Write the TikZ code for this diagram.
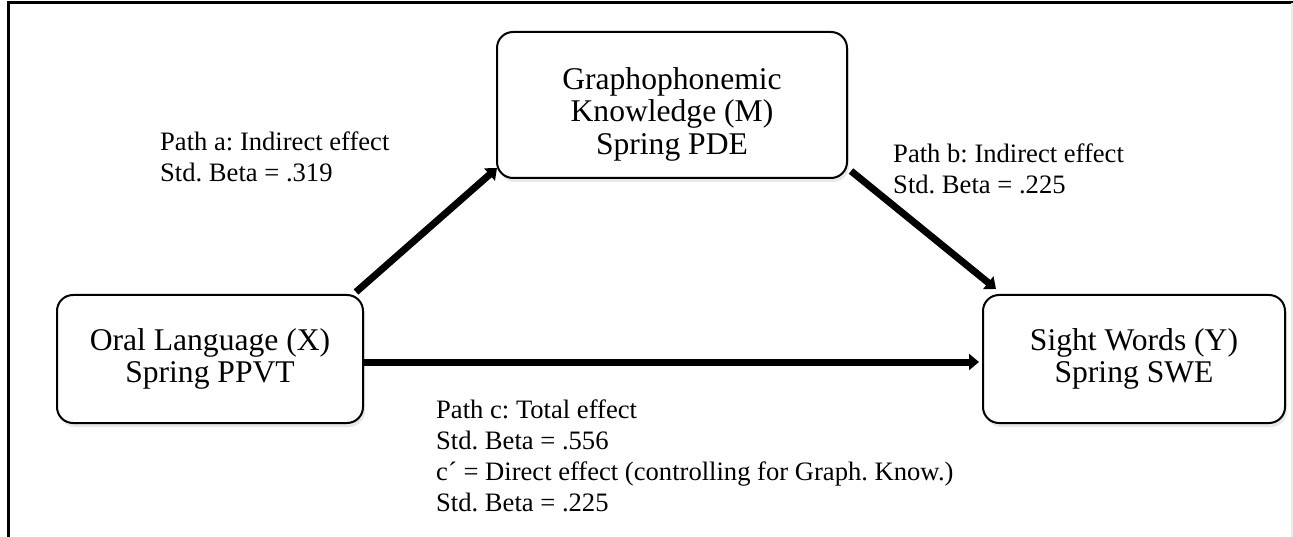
\documentclass[tikz,border=0pt]{standalone}
\usepackage{fontspec}
\setmainfont{Liberation Serif}
\usetikzlibrary{arrows.meta,shadows}
\frenchspacing

\begin{document}
\begin{tikzpicture}[x=1pt,y=-1pt,
  box/.style={draw,line width=2pt,rounded corners=16pt,fill=white,align=center,
    font=\fontsize{31.6}{32.5}\selectfont,
    drop shadow={shadow xshift=2pt,shadow yshift=-4pt,fill=black!18}},
  effect/.style={line width=7pt,-{Triangle[length=10pt,width=16pt]}},
  note/.style={anchor=north west,inner sep=0pt,align=left,font=\fontsize{26.6}{30.7}\selectfont}]

  \useasboundingbox (0,0) rectangle (1293,537);

  % Frame
  \draw[line width=3pt] (8,537) -- (8,3) -- (1293,3);
  \draw[black!8,line width=1.5pt] (1292,3) -- (1292,537);

  % Variables
  \node[box,minimum width=306pt,minimum height=128pt] (oral) at (210,359) {Oral Language (X)\\Spring PPVT};
  \node[box,minimum width=350pt,minimum height=146pt] (grapho) at (672,105) {\rule{0pt}{40pt}Graphophonemic\\Knowledge (M)\\Spring PDE};
  \node[box,minimum width=302pt,minimum height=128pt] (sight) at (1134,359) {Sight Words (Y)\\Spring SWE};

  % Paths
  \draw[effect] ([xshift=-8pt,yshift=2pt]oral.north east) -- ([xshift=1pt,yshift=11pt]grapho.south west);
  \draw[effect] ([xshift=3pt,yshift=8pt]grapho.south east) -- ([xshift=14pt,yshift=5pt]sight.north west);
  \draw[effect] ([yshift=-3pt]oral.east) -- ([xshift=-3pt,yshift=-3pt]sight.west);

  % Labeling Paths
  \node[note] (patha) at (160,132) {Path a: Indirect effect\\Std. Beta = .319};
  \node[note] (pathb) at (893,144) {Path b: Indirect effect\\Std. Beta = .225};
  \node[note] (pathc) at (436,400) {Path c: Total effect\\Std. Beta = .556\\c´ = Direct effect (controlling for Graph. Know.)\\Std. Beta = .225};

\end{tikzpicture}
\end{document}
